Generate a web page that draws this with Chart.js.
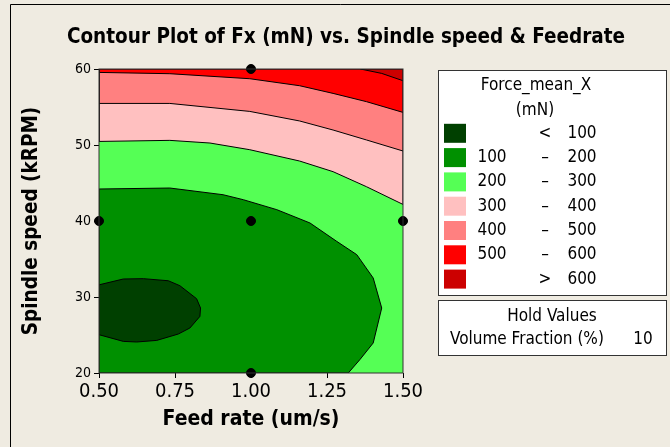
<!DOCTYPE html>
<html>
<head>
<meta charset="utf-8">
<script src="https://cdn.jsdelivr.net/npm/chart.js@4.4.1/dist/chart.umd.min.js"></script>
<style>
    html, body { margin: 0; padding: 0; background: #efebe1; }
    #wrap { width: 670px; height: 447px; }
</style>
</head>
<body>
<div id="wrap"><canvas id="contourChart" width="670" height="447"></canvas></div>
<script>
// Axis ranges and ticks
const feedMin = 0.5, feedMax = 1.5;
const speedMin = 20, speedMax = 60;
const feedTicks = [0.5, 0.75, 1.0, 1.25, 1.5];
const speedTicks = [20, 30, 40, 50, 60];

// Contour levels (legend)
const levelLow = ["", "100", "200", "300", "400", "500", ""];
const levelSym = ["<", "\u2013", "\u2013", "\u2013", "\u2013", "\u2013", ">"];
const levelHigh = ["100", "200", "300", "400", "500", "600", "600"];
const levelColors = ["#004000", "#009000", "#55ff55", "#ffc0c0", "#ff8080", "#ff0000", "#cc0000"];

// Contour lines (feed rate, spindle speed)
const c100Feed = [0.50, 0.58, 0.646, 0.728, 0.766, 0.821, 0.834, 0.832, 0.799, 0.761, 0.69, 0.624, 0.58, 0.50];
const c100Speed = [31.6, 32.37, 32.41, 32.14, 31.49, 29.78, 28.55, 27.45, 25.92, 25.13, 24.29, 24.08, 24.16, 25.04];

const c200Feed = [0.50, 0.733, 0.908, 0.975, 1.085, 1.194, 1.282, 1.348, 1.402, 1.43, 1.402, 1.358, 1.32];
const c200Speed = [44.21, 44.34, 43.46, 42.8, 41.49, 39.74, 37.32, 35.57, 32.5, 28.55, 23.95, 21.75, 20.0];

const c300Feed = [0.50, 0.733, 0.865, 0.996, 1.16, 1.27, 1.38, 1.50];
const c300Speed = [50.47, 50.61, 50.26, 49.38, 47.89, 46.49, 44.51, 42.18];

const c400Feed = [0.50, 0.733, 0.996, 1.16, 1.27, 1.38, 1.50];
const c400Speed = [55.47, 55.47, 54.42, 53.16, 51.97, 50.66, 49.21];

const c500Feed = [0.50, 0.733, 0.996, 1.16, 1.27, 1.38, 1.50];
const c500Speed = [59.55, 59.38, 58.72, 57.8, 56.79, 55.7, 54.29];

const c600Feed = [1.36, 1.43, 1.50];
const c600Speed = [60.0, 59.42, 58.46];

// Design points
const designFeed = [0.5, 1.0, 1.5, 1.0, 1.0];
const designSpeed = [40, 40, 40, 60, 20];

const fontFamily = "'DejaVu Sans Condensed', 'DejaVu Sans', sans-serif";

function toPoints(xs, ys) {
    return xs.map((x, i) => ({ x: x, y: ys[i] }));
}

// Region above a contour running from the left edge to the right edge
function upperRegion(xs, ys) {
    const pts = toPoints(xs, ys);
    pts.push({ x: feedMax, y: speedMax }, { x: feedMin, y: speedMax }, pts[0]);
    return pts;
}

const lowRegion = [{ x: feedMin, y: speedMin }].concat(toPoints(c200Feed, c200Speed), [{ x: feedMin, y: speedMin }]);
const coreRegion = toPoints(c100Feed, c100Speed);
coreRegion.push(coreRegion[0]);
const topRegion = toPoints(c600Feed, c600Speed);
topRegion.push({ x: feedMax, y: speedMax }, topRegion[0]);

const regions = [
    { data: lowRegion, color: levelColors[1] },
    { data: coreRegion, color: levelColors[0] },
    { data: upperRegion(c300Feed, c300Speed), color: levelColors[3] },
    { data: upperRegion(c400Feed, c400Speed), color: levelColors[4] },
    { data: upperRegion(c500Feed, c500Speed), color: levelColors[5] },
    { data: topRegion, color: levelColors[6] }
];

const datasets = regions.map((r, i) => ({
    type: "line",
    data: r.data,
    backgroundColor: r.color,
    borderColor: "#000",
    borderWidth: 1,
    fill: "shape",
    pointRadius: 0,
    tension: 0,
    order: regions.length - i + 1
}));

datasets.push({
    type: "scatter",
    data: toPoints(designFeed, designSpeed),
    backgroundColor: "#000",
    borderColor: "#000",
    pointRadius: 4.5,
    clip: false,
    order: 0
});

// Background, plot frame, title, legend and hold values box
const decor = {
    id: "decor",
    beforeDraw(chart) {
        const { ctx, chartArea: a } = chart;
        ctx.save();
        ctx.fillStyle = "#efebe1";
        ctx.fillRect(0, 0, chart.width, chart.height);
        ctx.fillStyle = levelColors[2];
        ctx.fillRect(a.left, a.top, a.right - a.left, a.bottom - a.top);
        ctx.restore();
    },
    afterDatasetsDraw(chart) {
        const { ctx, chartArea: a } = chart;
        ctx.save();
        ctx.strokeStyle = "#333";
        ctx.lineWidth = 1;
        ctx.strokeRect(a.left, a.top, a.right - a.left, a.bottom - a.top);
        ctx.restore();
    },
    afterDraw(chart) {
        const ctx = chart.ctx;
        ctx.save();

        // outer frame
        ctx.strokeStyle = "#000";
        ctx.lineWidth = 1;
        ctx.beginPath();
        ctx.moveTo(10.5, chart.height);
        ctx.lineTo(10.5, 4.5);
        ctx.lineTo(chart.width, 4.5);
        ctx.stroke();

        // title
        ctx.fillStyle = "#000";
        ctx.textAlign = "center";
        ctx.textBaseline = "middle";
        ctx.font = "bold 20.5px " + fontFamily;
        ctx.fillText("Contour Plot of Fx (mN) vs. Spindle speed & Feedrate", 346, 38);

        // legend box
        ctx.fillStyle = "#fff";
        ctx.fillRect(438.5, 70.5, 228, 225);
        ctx.fillRect(438.5, 300.5, 228, 55);
        ctx.strokeStyle = "#333";
        ctx.strokeRect(438.5, 70.5, 228, 225);
        ctx.strokeRect(438.5, 300.5, 228, 55);

        ctx.fillStyle = "#000";
        ctx.font = "17px " + fontFamily;
        ctx.fillText("Force_mean_X", 536, 86);
        ctx.fillText("(mN)", 535, 111);

        levelColors.forEach((c, i) => {
            const y = 133.3 + i * 24.3;
            ctx.fillStyle = c;
            ctx.fillRect(444, y - 9.5, 22, 19);
            ctx.fillStyle = "#000";
            ctx.textAlign = "center";
            ctx.fillText(levelLow[i], 492, y);
            ctx.fillText(levelSym[i], 545, y);
            ctx.fillText(levelHigh[i], 582, y);
        });

        // hold values
        ctx.fillText("Hold Values", 552, 317);
        ctx.textAlign = "left";
        ctx.fillText("Volume Fraction (%)", 450, 340);
        ctx.textAlign = "center";
        ctx.fillText("10", 643, 340);

        ctx.restore();
    }
};

new Chart(document.getElementById("contourChart"), {
    data: { datasets: datasets },
    options: {
        responsive: false,
        animation: false,
        layout: { padding: { top: 69, right: 267, bottom: 0, left: 0 } },
        plugins: {
            legend: { display: false },
            tooltip: { enabled: false },
            title: { display: false }
        },
        scales: {
            x: {
                type: "linear",
                min: feedMin,
                max: feedMax,
                afterBuildTicks: (scale) => { scale.ticks = feedTicks.map(v => ({ value: v })); },
                afterFit: (scale) => { scale.height = 74; },
                ticks: {
                    callback: (v) => Number(v).toFixed(2),
                    font: { family: fontFamily, size: 20 },
                    color: "#000",
                    padding: 2,
                    maxRotation: 0,
                    autoSkip: false
                },
                grid: { drawOnChartArea: false, drawTicks: true, tickLength: 5, color: "#000" },
                border: { display: false },
                title: {
                    display: true,
                    text: "Feed rate (um/s)",
                    font: { family: fontFamily, size: 21, weight: "bold" },
                    color: "#000",
                    padding: { top: 0, bottom: 15 }
                }
            },
            y: {
                type: "linear",
                min: speedMin,
                max: speedMax,
                afterBuildTicks: (scale) => { scale.ticks = speedTicks.map(v => ({ value: v })); },
                afterFit: (scale) => { scale.width = 99; },
                ticks: {
                    font: { family: fontFamily, size: 14 },
                    color: "#000",
                    padding: 3,
                    autoSkip: false
                },
                grid: { drawOnChartArea: false, drawTicks: true, tickLength: 5, color: "#000" },
                border: { display: false },
                title: {
                    display: true,
                    text: "Spindle speed (kRPM)",
                    font: { family: fontFamily, size: 20.5, weight: "bold" },
                    color: "#000",
                    padding: { top: 19, bottom: 0 }
                }
            }
        }
    },
    plugins: [decor]
});
</script>
</body>
</html>
